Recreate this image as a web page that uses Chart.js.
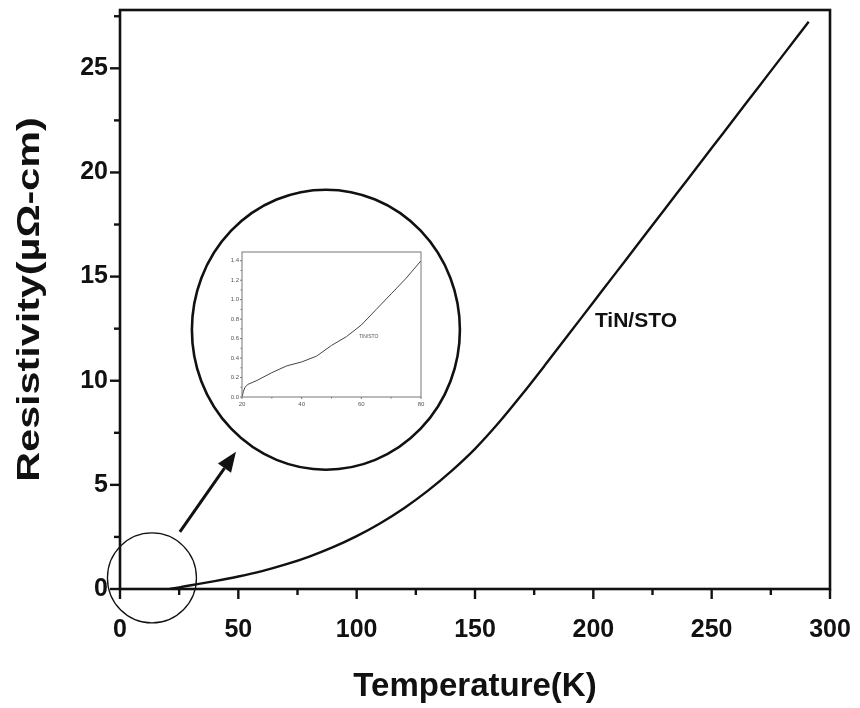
<!DOCTYPE html>
<html>
<head>
<meta charset="utf-8">
<script src="https://cdn.jsdelivr.net/npm/chart.js@4.4.1/dist/chart.umd.min.js"></script>
<style>
  body { margin: 0; background: #fff; }
  #wrap { position: relative; width: 860px; height: 708px; }
  #main { position: absolute; left: 0; top: 0; }
  #inset { position: absolute; left: 222px; top: 246px; }
</style>
</head>
<body>
<div id="wrap">
  <canvas id="main" width="860" height="708"></canvas>
  <canvas id="inset" width="206" height="162"></canvas>
</div>
<script>
// main curve (K, µΩ-cm)
const temperature = [21, 25, 30, 40, 50, 60, 70, 80, 90, 100, 110, 120, 130, 140, 150, 160,
  170, 180, 190, 200, 210, 220, 230, 240, 250, 260, 270, 280, 291];
const resistivity = [0, 0.08, 0.18, 0.38, 0.6, 0.86, 1.18, 1.56, 2.01, 2.54, 3.16, 3.88, 4.71, 5.66, 6.73, 7.98,
  9.36, 10.81, 12.29, 13.77, 15.25, 16.73, 18.21, 19.69, 21.17, 22.65, 24.13, 25.61, 27.24];

// low temperature inset
const insetTemperature = [20, 20.5, 21, 22, 25, 30, 35, 40, 45, 50, 55, 60, 65, 70, 75, 80];
const insetResistivity = [0, 0.06, 0.1, 0.13, 0.17, 0.25, 0.32, 0.36, 0.42, 0.53, 0.62, 0.74, 0.9, 1.06, 1.22, 1.4];

const xTicks = [0, 50, 100, 150, 200, 250, 300];
const yTicks = [0, 5, 10, 15, 20, 25];
const insetXTicks = [20, 40, 60, 80];
const insetYTicks = [0, 0.2, 0.4, 0.6, 0.8, 1.0, 1.2, 1.4];

const sampleLabel = 'TiN/STO';
const yTitle = 'Resistivity(µΩ-cm)';
const xTitle = 'Temperature(K)';
const FONT = '"Liberation Sans", Arial, sans-serif';

// minor ticks halfway between majors, kept inside the axis range
function minorTicks(majors, max) {
  const step = majors[1] - majors[0];
  const out = [];
  majors.forEach(v => { if (v + step / 2 <= max) out.push(v + step / 2); });
  return out;
}

function pairs(xs, ys) {
  return xs.map((x, i) => ({ x, y: ys[i] }));
}

function drawTicks(ctx, chart, majors, minors, axis, major, minor) {
  const a = chart.chartArea;
  const s = chart.scales[axis];
  const line = (x1, y1, x2, y2) => { ctx.beginPath(); ctx.moveTo(x1, y1); ctx.lineTo(x2, y2); ctx.stroke(); };
  const mark = (v, len) => {
    const p = s.getPixelForValue(v);
    if (axis === 'x') line(p, a.bottom, p, a.bottom + len);
    else line(a.left, p, a.left - len, p);
  };
  majors.forEach(v => mark(v, major));
  minors.forEach(v => mark(v, minor));
}

// frame, ticks, y title, the two circles, the arrow and the sample label
const mainDecor = {
  id: 'mainDecor',
  afterDraw(chart) {
    const { ctx, chartArea: a, scales: { x, y } } = chart;
    ctx.save();
    ctx.strokeStyle = '#111';
    ctx.lineWidth = 2.6;
    ctx.strokeRect(a.left, a.top, a.right - a.left, a.bottom - a.top);
    ctx.lineWidth = 2.4;
    drawTicks(ctx, chart, xTicks, minorTicks(xTicks, x.max), 'x', 10, 6);
    drawTicks(ctx, chart, yTicks, minorTicks(yTicks, y.max), 'y', 10, 6);

    // y title, stretched along its length like the original export
    ctx.save();
    ctx.fillStyle = '#111';
    ctx.font = 'bold 32px ' + FONT;
    ctx.textAlign = 'center';
    ctx.textBaseline = 'middle';
    ctx.translate(30, (a.top + a.bottom) / 2);
    ctx.rotate(-Math.PI / 2);
    ctx.scale(1.29, 1);
    ctx.fillText(yTitle, 0, 0);
    ctx.restore();

    // small circle round the low-T region
    ctx.lineWidth = 1.3;
    ctx.beginPath();
    ctx.ellipse(x.getPixelForValue(13.5), y.getPixelForValue(0.53), 44.5, 45, 0, 0, Math.PI * 2);
    ctx.stroke();

    // big circle holding the inset
    ctx.lineWidth = 2.6;
    ctx.beginPath();
    ctx.ellipse(x.getPixelForValue(87), y.getPixelForValue(12.45), 134, 140, 0, 0, Math.PI * 2);
    ctx.stroke();

    // arrow from small circle to big circle
    const x0 = x.getPixelForValue(25.3), y0 = y.getPixelForValue(2.74);
    const x1 = x.getPixelForValue(49), y1 = y.getPixelForValue(6.59);
    const ang = Math.atan2(y1 - y0, x1 - x0);
    const head = 20, half = 8;
    const bx = x1 - head * Math.cos(ang), by = y1 - head * Math.sin(ang);
    ctx.lineWidth = 3;
    ctx.beginPath(); ctx.moveTo(x0, y0); ctx.lineTo(bx, by); ctx.stroke();
    ctx.fillStyle = '#111';
    ctx.beginPath();
    ctx.moveTo(x1, y1);
    ctx.lineTo(bx + half * Math.sin(ang), by - half * Math.cos(ang));
    ctx.lineTo(bx - half * Math.sin(ang), by + half * Math.cos(ang));
    ctx.closePath();
    ctx.fill();

    ctx.font = 'bold 21px ' + FONT;
    ctx.textAlign = 'center';
    ctx.textBaseline = 'middle';
    ctx.fillText(sampleLabel, x.getPixelForValue(218), y.getPixelForValue(12.84));
    ctx.restore();
  }
};

new Chart(document.getElementById('main'), {
  type: 'scatter',
  data: {
    datasets: [{
      data: pairs(temperature, resistivity),
      showLine: true,
      borderColor: '#111',
      borderWidth: 2.4,
      pointRadius: 0,
      cubicInterpolationMode: 'monotone'
    }]
  },
  options: {
    responsive: false,
    devicePixelRatio: 1,
    animation: false,
    layout: { padding: { top: 10, right: 30, left: 0, bottom: 0 } },
    plugins: { legend: { display: false }, tooltip: { enabled: false } },
    scales: {
      x: {
        type: 'linear', min: 0, max: 300,
        afterBuildTicks: s => { s.ticks = xTicks.map(value => ({ value })); },
        afterFit: s => { s.height = 119; s.paddingLeft = 0; s.paddingRight = 0; },
        grid: { drawOnChartArea: false, color: 'rgba(0,0,0,0)', tickLength: 10 },
        border: { display: false },
        ticks: { color: '#111', padding: 16, maxRotation: 0, font: { family: FONT, size: 25, weight: 'bold' } },
        title: { display: true, text: xTitle, color: '#111',
          font: { family: FONT, size: 33, weight: 'bold', lineHeight: 1 }, padding: { top: 0, bottom: 5 } }
      },
      y: {
        type: 'linear', min: 0, max: 27.8,
        afterBuildTicks: s => { s.ticks = yTicks.map(value => ({ value })); },
        afterFit: s => { s.width = 120; s.paddingTop = 0; s.paddingBottom = 0; },
        grid: { drawOnChartArea: false, color: 'rgba(0,0,0,0)', tickLength: 10 },
        border: { display: false },
        ticks: { color: '#111', padding: 2, font: { family: FONT, size: 25, weight: 'bold' } }
      }
    }
  },
  plugins: [mainDecor]
});

// inset: the low-temperature detail
const insetDecor = {
  id: 'insetDecor',
  afterDraw(chart) {
    const { ctx, chartArea: a, scales: { x, y } } = chart;
    ctx.save();
    ctx.strokeStyle = '#777';
    ctx.lineWidth = 1;
    ctx.strokeRect(a.left, a.top, a.right - a.left, a.bottom - a.top);
    drawTicks(ctx, chart, insetXTicks, minorTicks(insetXTicks, x.max), 'x', 2, 1.5);
    drawTicks(ctx, chart, insetYTicks, minorTicks(insetYTicks, y.max), 'y', 2, 1.5);
    ctx.fillStyle = '#555';
    ctx.font = '5px ' + FONT;
    ctx.textAlign = 'center';
    ctx.textBaseline = 'middle';
    ctx.fillText(sampleLabel, x.getPixelForValue(62.5), y.getPixelForValue(0.62));
    ctx.restore();
  }
};

new Chart(document.getElementById('inset'), {
  type: 'scatter',
  data: {
    datasets: [{
      data: pairs(insetTemperature, insetResistivity),
      showLine: true,
      borderColor: '#444',
      borderWidth: 1,
      pointRadius: 0
    }]
  },
  options: {
    responsive: false,
    devicePixelRatio: 1,
    animation: false,
    layout: { padding: { top: 6, right: 7, left: 0, bottom: 0 } },
    plugins: { legend: { display: false }, tooltip: { enabled: false } },
    scales: {
      x: {
        type: 'linear', min: 20, max: 80,
        afterBuildTicks: s => { s.ticks = insetXTicks.map(value => ({ value })); },
        afterFit: s => { s.height = 11; s.paddingLeft = 0; s.paddingRight = 0; },
        grid: { drawOnChartArea: false, color: 'rgba(0,0,0,0)', tickLength: 2 },
        border: { display: false },
        ticks: { color: '#555', padding: 2, maxRotation: 0, font: { family: FONT, size: 6 } }
      },
      y: {
        type: 'linear', min: 0, max: 1.49,
        afterBuildTicks: s => { s.ticks = insetYTicks.map(value => ({ value })); },
        afterFit: s => { s.width = 20; s.paddingTop = 0; s.paddingBottom = 0; },
        grid: { drawOnChartArea: false, color: 'rgba(0,0,0,0)', tickLength: 2 },
        border: { display: false },
        ticks: { color: '#555', padding: 1, font: { family: FONT, size: 6 },
          callback: v => v.toFixed(1) }
      }
    }
  },
  plugins: [insetDecor]
});
</script>
</body>
</html>
